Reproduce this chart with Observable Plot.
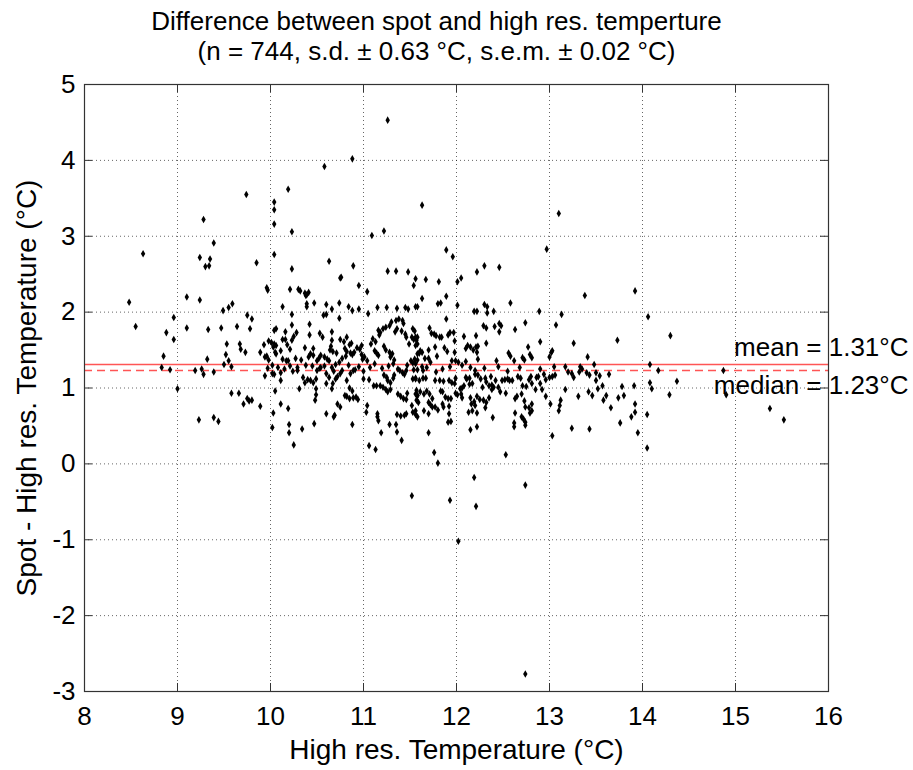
<!DOCTYPE html>
<html>
<head>
<meta charset="utf-8">
<script src="https://cdn.jsdelivr.net/npm/d3@7"></script>
<script src="https://cdn.jsdelivr.net/npm/@observablehq/plot@0.6"></script>
<style>
  html, body { margin: 0; padding: 0; background: #fff; }
  #chart { width: 913px; height: 770px; }
</style>
</head>
<body>
<div id="chart"></div>
<script>
// ---- texts ----
const titleLines = [
  "Difference between spot and high res. temperture",
  "(n = 744, s.d. \u00B1 0.63 \u00B0C, s.e.m. \u00B1 0.02 \u00B0C)"
];
const xLabel = "High res. Temperature (\u00B0C)";
const yLabel = "Spot - High res. Temperature (\u00B0C)";

// ---- axes ----
const xTicks = [8, 9, 10, 11, 12, 13, 14, 15, 16];
const yTicks = [-3, -2, -1, 0, 1, 2, 3, 4, 5];

// ---- summary values ----
const meanValue = 1.31;
const medianValue = 1.23;

// ---- points [high res. temperature, spot - high res.] ----
const upperPoints = [
  [10.88,4.02],[10.58,3.92],[10.19,3.62],[9.74,3.55],[10.04,3.45],[10.04,3.35],[10.04,3.16],[10.23,3.06],
  [9.28,3.22],[11.09,3.01],[9.39,2.91],[8.63,2.77],[10.04,2.76],[9.24,2.72],[9.35,2.70],[9.30,2.60],
  [9.34,2.61],[9.85,2.65],[10.63,2.67],[10.89,2.61],[10.23,2.57],[10.76,2.46],[10.95,2.35],[11.04,2.27],
  [11.26,4.53],[11.63,3.41],[13.10,3.30],[11.22,3.07],[12.97,2.83],[11.89,2.82],[11.96,2.73],[11.26,2.54],
  [11.35,2.54],[11.48,2.53],[11.56,2.44],[11.54,2.35],[11.67,2.43],[11.81,2.40],[12.01,2.40],[12.05,2.45],
  [12.22,2.53],[12.30,2.61],[12.46,2.59],[10.75,2.45],[13.92,2.28]
];
const leftPoints = [
  [8.48,2.13],[8.55,1.81],[8.96,1.93],[8.88,1.73],[8.96,1.64],[8.85,1.42],[8.83,1.27],[8.92,1.24],
  [9.00,0.99],[9.10,2.20],[9.24,2.16],[9.10,1.79],[9.33,1.77],[9.47,1.79],[9.49,2.02],[9.55,2.06],
  [9.59,2.11],[9.75,1.96],[9.80,1.91],[9.64,1.81],[9.78,1.78],[9.53,1.58],[9.67,1.58],[9.68,1.51],
  [9.73,1.47],[9.52,1.44],[9.55,1.36],[9.32,1.38],[9.50,1.31],[9.58,1.28],[9.19,1.23],[9.26,1.25],
  [9.28,1.18],[9.39,1.21],[9.58,0.93],[9.66,0.93],[9.75,0.86],[9.77,0.83],[9.71,0.79],[9.23,0.58],
  [9.39,0.61],[9.44,0.56]
];
const centralPoints = [
  [9.96,2.32],[9.97,2.29],[10.21,2.30],[10.30,2.30],[10.32,2.28],[10.37,2.25],[10.39,2.23],[10.38,2.22],
  [10.41,2.26],[10.39,2.11],[10.39,2.07],[10.47,2.12],[10.60,2.10],[10.74,2.12],[10.84,2.07],[10.88,2.02],
  [10.95,2.04],[11.15,2.06],[11.25,2.06],[11.36,2.05],[11.45,2.06],[11.48,2.04],[11.56,2.07],[11.05,1.98],
  [10.13,2.07],[10.23,1.97],[10.57,1.96],[10.60,1.97],[10.66,2.04],[10.23,1.83],[10.06,1.78],[10.04,1.76],
  [10.16,1.74],[10.28,1.73],[10.42,1.84],[10.42,1.70],[10.53,1.72],[10.56,1.67],[10.66,1.74],[10.74,1.92],
  [10.25,1.68],[10.23,1.63],[10.21,1.51],[10.18,1.57],[10.13,1.64],[10.16,1.64],[9.98,1.62],[10.01,1.60],
  [10.04,1.58],[10.06,1.56],[10.03,1.54],[9.93,1.57],[9.94,1.41],[9.96,1.42],[9.98,1.37],[9.89,1.47],
  [10.05,1.47],[10.06,1.45],[10.11,1.49],[10.13,1.38],[10.17,1.36],[10.19,1.36],[10.21,1.29],[10.27,1.39],
  [10.33,1.37],[10.37,1.53],[10.46,1.52],[10.41,1.41],[10.43,1.45],[10.46,1.43],[10.50,1.36],[10.52,1.39],
  [10.54,1.43],[10.58,1.41],[10.61,1.38],[10.63,1.36],[10.45,1.29],[10.53,1.26],[10.54,1.27],[10.66,1.63],
  [10.65,1.55],[10.64,1.50],[10.67,1.48],[10.71,1.46],[10.66,1.27],[10.70,1.31],[10.74,1.34],[10.77,1.39],
  [10.81,1.42],[10.75,1.64],[10.79,1.61],[10.82,1.67],[10.85,1.57],[10.87,1.59],[10.80,1.52],[10.82,1.48],
  [10.86,1.46],[10.88,1.44],[10.90,1.47],[10.93,1.53],[10.96,1.51],[10.98,1.56],[10.98,1.44],[10.99,1.38],
  [11.01,1.41],[11.04,1.36],[11.10,1.65],[11.13,1.61],[11.08,1.58],[11.12,1.49],[11.14,1.46],[11.16,1.43],
  [11.16,1.76],[11.18,1.73],[11.17,1.70],[11.21,1.78],[11.24,1.80],[11.28,1.82],[11.30,1.87],[11.35,1.89],
  [11.38,1.91],[11.42,1.89],[11.43,1.85],[11.34,1.74],[11.36,1.78],[11.41,1.75],[11.53,1.78],[11.55,1.75],
  [11.52,1.67],[11.58,1.67],[11.57,1.63],[11.54,1.64],[11.45,1.71],[11.46,1.67],[11.49,1.58],[11.22,1.55],
  [11.24,1.50],[11.28,1.47],[11.29,1.41],[11.31,1.45],[11.33,1.37],[11.32,1.32],[11.37,1.25],[11.39,1.23],
  [11.42,1.20],[11.44,1.18],[11.46,1.23],[11.51,1.36],[11.53,1.33],[11.55,1.38],[11.58,1.37],[11.60,1.46],
  [11.54,1.24],[11.56,1.13],[11.53,1.12],[11.22,1.17],[11.25,1.14],[11.26,1.10],[11.29,1.07],[11.32,1.13],
  [11.33,1.17],[11.18,1.03],[11.21,1.01],[11.24,0.98],[11.26,0.95],[11.29,0.98],[11.37,0.92],[11.40,0.89],
  [11.43,0.86],[11.46,0.85],[11.47,0.93],[11.14,1.03],[11.11,1.03],[11.06,1.11],[11.00,1.12],[10.86,1.19],
  [10.89,1.23],[10.91,1.24],[10.82,1.10],[10.85,1.00],[10.88,0.96],[10.80,0.90],[10.82,0.89],[10.85,0.86],
  [10.89,0.87],[10.92,0.88],[10.94,0.85],[10.70,1.12],[10.67,1.06],[10.66,0.99],[10.60,1.19],[10.63,1.14],
  [10.60,1.06],[10.72,1.15],[10.75,1.19],[10.77,1.23],[10.50,1.23],[10.49,1.12],[10.49,0.99],[10.49,0.91],
  [10.43,1.10],[10.46,1.07],[10.40,1.11],[10.37,1.07],[10.35,1.14],[10.48,0.84],[10.31,0.99],[10.29,1.23],
  [10.29,1.27],[10.11,1.20],[10.11,1.10],[10.02,1.19],[10.04,1.18],[10.05,0.96],[9.94,1.16],[9.89,0.76],
  [9.80,0.84],[10.11,0.79],[10.03,0.67],[10.19,0.73],[10.20,0.52],[10.20,0.41],[10.02,0.48],[10.34,0.46],
  [10.47,0.53],[10.60,0.66],[10.68,0.62],[10.69,0.64],[10.72,0.79],[10.75,0.75],[10.88,0.52],[11.03,0.68],
  [11.04,0.77],[11.15,0.66],[11.15,0.62],[11.16,0.57],[11.19,0.41],[11.28,0.52],[11.35,0.52],[11.36,0.42],
  [11.41,0.31],[11.36,0.65],[11.40,0.63],[11.44,0.64],[11.46,0.66],[11.53,0.68],[11.56,0.65],[11.58,0.62],
  [11.57,0.84],[11.52,0.77],[11.58,0.90],[11.57,0.97],
  [10.02,1.30],[10.08,1.27],[10.15,1.25],[10.38,1.30],[10.58,1.29],[10.84,1.30],[10.95,1.28],[11.07,1.27],
  [11.12,1.32],[11.20,1.26],[11.27,1.29],[11.47,1.30],[9.97,1.26],[10.24,1.22],[10.68,1.22],[11.00,1.22]
];
const rightPoints = [
  [11.63,2.18],[11.89,2.21],[11.80,2.11],[11.83,2.12],[11.58,2.07],[12.01,2.09],[12.19,2.01],[12.22,2.01],
  [12.30,2.10],[12.33,2.07],[12.33,1.99],[12.40,2.01],[12.58,2.12],[12.89,2.01],[13.13,1.97],[13.38,2.22],
  [11.89,1.91],[12.29,1.82],[12.32,1.79],[12.41,1.81],[12.46,1.85],[12.48,1.82],[12.46,1.74],[12.74,1.86],
  [12.63,1.77],[13.07,1.83],[11.71,1.79],[11.73,1.72],[11.76,1.71],[11.78,1.69],[11.82,1.67],[11.84,1.67],
  [11.91,1.70],[11.93,1.73],[11.97,1.73],[11.98,1.62],[12.08,1.68],[12.21,1.69],[12.12,1.56],[12.10,1.52],
  [12.15,1.54],[12.18,1.50],[12.21,1.54],[12.23,1.55],[12.32,1.59],[12.23,1.38],[12.22,1.47],[12.43,1.36],
  [12.56,1.46],[12.58,1.42],[12.62,1.36],[12.77,1.54],[12.79,1.44],[12.81,1.40],[12.90,1.61],[13.02,1.47],
  [13.03,1.49],[13.00,1.41],[13.26,1.59],[12.71,1.40],[12.73,1.37],
  [11.56,1.67],[11.56,1.56],[11.58,1.58],[11.61,1.49],[11.58,1.45],[11.63,1.47],[11.66,1.39],[11.70,1.39],
  [11.70,1.50],[11.72,1.34],[11.77,1.54],[11.79,1.42],[11.87,1.53],[11.90,1.48],[11.95,1.36],[11.99,1.36],
  [11.98,1.47],[12.06,1.30],[12.02,1.34],[12.10,1.35],[11.56,1.32],[11.58,1.24],[11.63,1.28],[11.64,1.23],
  [11.56,1.12],[11.60,1.10],[11.64,1.13],[11.67,1.13],[11.77,1.10],[11.82,1.10],[11.86,1.09],[11.92,1.10],
  [11.95,1.07],[11.98,1.06],[11.99,1.13],[12.10,1.14],[12.11,1.12],[12.14,1.13],[12.08,1.03],[12.06,1.00],
  [12.14,1.05],[12.17,1.06],[12.20,1.18],[12.23,1.17],[12.26,1.12],[12.31,1.13],[12.32,1.08],[12.37,1.15],
  [12.38,1.04],[12.42,1.10],[12.28,1.01],[12.35,1.03],[12.40,1.01],[12.49,1.10],[12.52,1.11],[12.55,1.12],
  [12.57,1.10],[12.60,1.10],[12.66,1.15],[12.69,1.13],[12.71,1.03],[12.75,1.02],[12.78,1.11],[12.80,1.15],
  [12.81,1.06],[12.86,1.14],[12.88,1.15],[12.94,1.18],[12.96,1.11],[13.00,1.14],[13.03,1.15],[13.06,1.17],
  [13.17,1.28],[13.20,1.21],[13.24,1.19],[13.26,1.14],[13.32,1.21],[11.56,0.92],[11.58,0.90],[11.61,0.95],
  [11.65,0.92],[11.68,0.96],[11.71,0.92],[11.74,0.86],[11.70,0.81],[11.72,0.78],[11.74,0.75],[11.77,0.75],
  [11.80,0.71],[11.83,0.96],[11.85,0.95],[11.88,0.88],[11.91,0.86],[11.94,0.86],[11.85,0.79],[11.86,0.75],
  [11.92,0.76],[12.04,0.99],[12.05,0.92],[12.06,0.87],[11.99,0.93],[12.01,0.91],[12.15,0.87],[12.16,0.79],
  [12.19,0.82],[12.20,0.77],[12.22,0.89],[12.25,0.85],[12.29,0.84],[12.32,0.81],[12.35,0.87],[12.17,0.70],
  [12.22,0.67],[12.31,0.74],[12.38,0.98],[12.45,1.01],[12.47,0.95],[12.53,0.93],[12.63,0.86],[12.65,0.89],
  [12.70,0.92],[12.73,0.83],[12.74,0.75],[12.78,0.74],[12.81,0.70],[12.79,0.67],[12.81,0.79],[12.63,0.67],
  [12.62,0.54],[12.62,0.49],[12.70,0.62],[12.72,0.59],[12.74,0.55],[12.74,0.51],[12.85,0.98],[12.90,1.06],
  [12.92,0.98],[12.96,0.89],[13.01,0.79],[13.03,0.37],[13.11,0.77],[13.12,0.84],[13.10,0.70],[13.17,0.98],
  [13.31,0.89],[13.24,0.47],[11.56,0.70],[11.59,0.81],[11.65,0.70],[11.70,0.66],[11.92,0.66],[11.94,0.56],
  [11.91,0.55],[11.70,0.41],[12.13,0.68],[12.15,0.45],[12.22,0.49],[12.39,0.61],
  [11.68,1.27],[11.85,1.25],[11.93,1.28],[12.15,1.27],[12.30,1.26],[12.45,1.28],[12.68,1.27],[12.90,1.25],
  [13.05,1.28],[12.55,1.22],[12.20,1.23],[11.78,1.21]
];
const farRightPoints = [
  [14.06,1.94],[13.73,1.63],[14.30,1.69],[13.41,1.41],[13.48,1.31],[13.33,1.28],[13.35,1.25],[13.40,1.20],
  [13.43,1.17],[13.50,1.20],[13.54,1.16],[13.64,1.18],[13.50,1.10],[13.57,1.03],[13.52,0.99],[13.42,0.95],
  [13.46,0.90],[13.61,0.90],[13.58,0.84],[13.78,1.02],[13.80,0.90],[13.74,0.87],[13.91,1.03],[13.66,0.74],
  [13.92,0.79],[13.92,0.68],[13.88,0.62],[13.76,0.54],[13.43,0.46],[13.95,0.41],[14.05,0.65],[14.08,1.31],
  [14.17,1.23],[14.08,1.07],[14.10,0.99],[14.37,1.09],[14.29,0.91],[14.87,1.23],[14.90,0.91],[15.37,0.73],
  [15.52,0.58]
];
const lowPoints = [
  [11.52,-0.42],[11.93,-0.48],[12.02,-1.02],[12.19,-0.18],[12.21,-0.56],[12.74,-0.28],[12.74,-2.77],
  [12.53,0.12],[11.76,0.15],[11.80,0.01],[11.06,0.24],[11.13,0.19],[10.25,0.25],[14.05,0.21]
];

const points = [...upperPoints, ...leftPoints, ...centralPoints, ...rightPoints, ...farRightPoints, ...lowPoints]
  .map(([t, d]) => ({t, d}));

const font = "'Liberation Sans', Arial, Helvetica, sans-serif";
const fs = 26;
const labelFs = 28;
const fmt = d => (d < 0 ? "-" + Math.abs(d) : String(d));

const chart = Plot.plot({
  width: 913,
  height: 770,
  marginLeft: 84,
  marginRight: 85,
  marginTop: 84,
  marginBottom: 79,
  style: {fontFamily: font, fontSize: fs + "px", color: "#000", background: "#fff", overflow: "visible"},
  x: {domain: [8, 16], ticks: xTicks, label: null},
  y: {domain: [-3, 5], ticks: yTicks, label: null},
  marks: [
    Plot.gridX(xTicks, {stroke: "#000", strokeOpacity: 0.6, strokeDasharray: "1,3"}),
    Plot.gridY(yTicks, {stroke: "#000", strokeOpacity: 0.6, strokeDasharray: "1,3"}),
    Plot.ruleY([meanValue], {stroke: "#ff5555", strokeWidth: 1.5}),
    Plot.ruleY([medianValue], {stroke: "#ff5555", strokeWidth: 1.5, strokeDasharray: "8,5"}),
    Plot.dot(points, {x: "t", y: "d", symbol: "diamond", r: 2.3, fill: "#000", stroke: "none"}),
    // inward ticks on all four sides
    Plot.ruleX(xTicks, {x: d => d, insetTop: 599, stroke: "#333"}),
    Plot.ruleX(xTicks, {x: d => d, insetBottom: 599, stroke: "#333"}),
    Plot.ruleY(yTicks, {y: d => d, insetRight: 736, stroke: "#333"}),
    Plot.ruleY(yTicks, {y: d => d, insetLeft: 736, stroke: "#333"}),
    Plot.frame({stroke: "#333", strokeWidth: 1.2}),
    Plot.axisX(xTicks, {anchor: "bottom", tickSize: 0, tickPadding: 15, fontSize: fs, tickFormat: fmt}),
    Plot.axisY(yTicks, {anchor: "left", tickSize: 0, tickPadding: 9, fontSize: fs, tickFormat: fmt}),
    // axis labels
    Plot.text([xLabel], {frameAnchor: "bottom", dy: 59, lineAnchor: "middle", fontSize: labelFs}),
    Plot.text([yLabel], {frameAnchor: "left", textAnchor: "middle", dx: -57, rotate: -90, lineAnchor: "middle", fontSize: labelFs}),
    // title
    Plot.text([titleLines[0]], {frameAnchor: "top", dx: -20, dy: -63, lineAnchor: "middle", fontSize: fs}),
    Plot.text([titleLines[1]], {frameAnchor: "top", dx: -20, dy: -33, lineAnchor: "middle", fontSize: fs}),
    // annotations
    Plot.text([meanValue], {y: d => d, frameAnchor: "right", textAnchor: "end", dx: 80, dy: -17, lineAnchor: "middle",
      fontSize: fs, text: d => `mean = ${d.toFixed(2)}\u00B0C`}),
    Plot.text([medianValue], {y: d => d, frameAnchor: "right", textAnchor: "end", dx: 80, dy: 15, lineAnchor: "middle",
      fontSize: fs, text: d => `median = ${d.toFixed(2)}\u00B0C`})
  ]
});
document.getElementById("chart").appendChild(chart);
</script>
</body>
</html>
